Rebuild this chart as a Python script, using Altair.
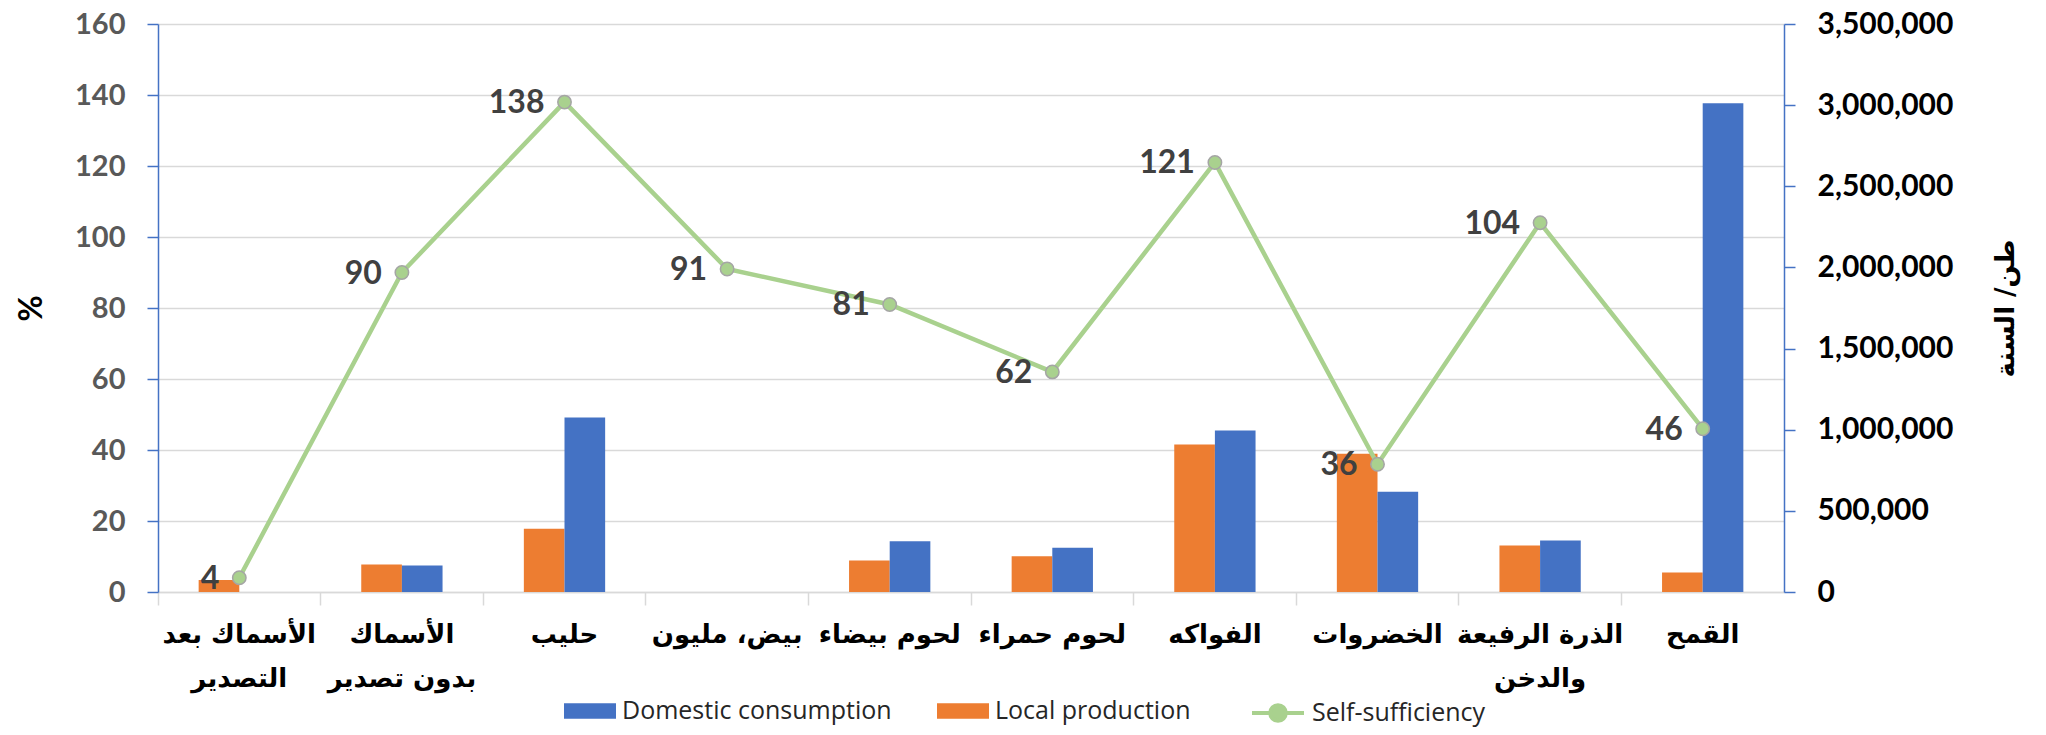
import altair as alt
import pandas as pd

categories = ["الأسماك بعد|التصدير", "الأسماك|بدون تصدير", "حليب", "بيض، مليون",
              "لحوم بيضاء", "لحوم حمراء", "الفواكه", "الخضروات",
              "الذرة الرفيعة|والدخن", "القمح"]
local_production = [74000, 169000, 389000, 0, 194000, 220000, 909000, 852000, 286000, 120000]
domestic_consumption = [0, 163000, 1075000, 0, 312000, 272000, 995000, 618000, 317000, 3011000]
self_sufficiency = [4, 90, 138, 91, 81, 62, 121, 36, 104, 46]
left_ticks = [0, 20, 40, 60, 80, 100, 120, 140, 160]
right_ticks = [0, 500000, 1000000, 1500000, 2000000, 2500000, 3000000, 3500000]

rows = []
for c, lp, dc in zip(categories, local_production, domestic_consumption):
    rows.append({"cat": c, "series": "Local production", "value": lp})
    rows.append({"cat": c, "series": "Domestic consumption", "value": dc})
bar_df = pd.DataFrame(rows)
ss_df = pd.DataFrame({"cat": categories, "ss": self_sufficiency,
                      "series": ["Self-sufficiency"] * len(categories)})

LATIN = "Lato"
ARABIC = "DejaVu Sans"

x_enc = alt.X(
    "cat:N", sort=categories, title=None,
    scale=alt.Scale(paddingInner=0, paddingOuter=0),
    axis=alt.Axis(labelAngle=0, labelFont=ARABIC, labelFontSize=26, labelFontWeight="bold",
                  labelColor="#000000", labelPadding=16, labelLineHeight=44,
                  labelExpr="split(datum.label, '|')",
                  domainColor="#D9D9D9", domainWidth=1.5, tickColor="#D9D9D9",
                  tickSize=13, tickWidth=1.5, bandPosition=0, labelLimit=400),
)

bars = alt.Chart(bar_df).mark_bar().encode(
    x=x_enc,
    xOffset=alt.XOffset("series:N", sort=["Local production", "Domestic consumption"],
                        scale=alt.Scale(paddingInner=0, paddingOuter=1)),
    y=alt.Y("value:Q", scale=alt.Scale(domain=[0, 3500000], nice=False),
            axis=alt.Axis(orient="right", values=right_ticks,
                          labelExpr="format(datum.value, ',')", grid=False,
                          labelFont=LATIN, labelFontSize=30, labelFontWeight="bold",
                          labelColor="#000000", labelPadding=22, labelLimit=400,
                          domainColor="#4472C4", domainWidth=1.5, tickColor="#4472C4",
                          tickSize=11, tickWidth=1.5,
                          title="طن/ السنة", titleFont=ARABIC, titleFontSize=26,
                          titleFontWeight="bold", titleColor="#000000", titleAngle=270,
                          titleBaseline="top", titlePadding=40)),
    color=alt.Color("series:N",
                    scale=alt.Scale(domain=["Domestic consumption", "Local production"],
                                    range=["#4472C4", "#ED7D31"]),
                    legend=alt.Legend(title=None, orient="none", direction="horizontal",
                                      legendX=406, legendY=661,
                                      symbolType="M-1,-0.3 H1 V0.3 H-1 Z", symbolSize=2704,
                                      symbolStrokeWidth=0, labelFont="Open Sans",
                                      labelFontSize=25, labelColor="#262626",
                                      labelOffset=6, columnPadding=45, labelLimit=500)),
)

y_ss = alt.Y("ss:Q", scale=alt.Scale(domain=[0, 160], nice=False),
             axis=alt.Axis(orient="left", values=left_ticks, grid=True, gridColor="#D9D9D9",
                           gridWidth=1.5, labelFont=LATIN, labelFontSize=29,
                           labelFontWeight="bold", labelColor="#595959", labelPadding=22,
                           domainColor="#4472C4", domainWidth=1.5, tickColor="#4472C4",
                           tickSize=11, tickWidth=1.5,
                           title="%", titleFont=LATIN, titleFontSize=32, titleFontWeight="bold",
                           titleColor="#000000", titlePadding=26))

line = alt.Chart(ss_df).mark_line(color="#A9D18E", strokeWidth=4.5).encode(x=x_enc, y=y_ss)

points = alt.Chart(ss_df).mark_point(filled=True, size=180, stroke="#A5A5A5",
                                     strokeWidth=1.5, opacity=1).encode(
    x=x_enc, y=y_ss,
    color=alt.Color("series:N", scale=alt.Scale(domain=["Self-sufficiency"], range=["#A9D18E"]),
                    legend=alt.Legend(title=None, orient="none", direction="horizontal",
                                      legendX=1092, legendY=661,
                                      symbolType="M-1,0 H-0.3 M0.3,0 H1 M0.3,0 A0.3,0.3 0 1 1 -0.3,0 A0.3,0.3 0 1 1 0.3,0",
                                      symbolSize=2704, symbolStrokeColor="#A9D18E",
                                      symbolFillColor="#A9D18E", symbolStrokeWidth=4,
                                      labelFont="Open Sans", labelFontSize=25,
                                      labelColor="#262626", labelOffset=6, labelLimit=500)),
)

labels = alt.Chart(ss_df).mark_text(align="right", baseline="middle", dx=-20, dy=1,
                                    font=LATIN, fontSize=32, fontWeight="bold",
                                    color="#404040").encode(
    x=x_enc, y=y_ss, text=alt.Text("ss:Q"))

pct_layer = alt.layer(line, points, labels)

chart = alt.layer(bars, pct_layer).resolve_scale(
    y="independent", color="independent"
).properties(
    width=1626, height=568,
    autosize=alt.AutoSizeParams(type="none"),
    padding={"left": 150, "top": 16, "right": 254, "bottom": 135},
).configure_view(stroke=None)

chart.save("out.html", embed_options={"renderer": "svg", "actions": False})
